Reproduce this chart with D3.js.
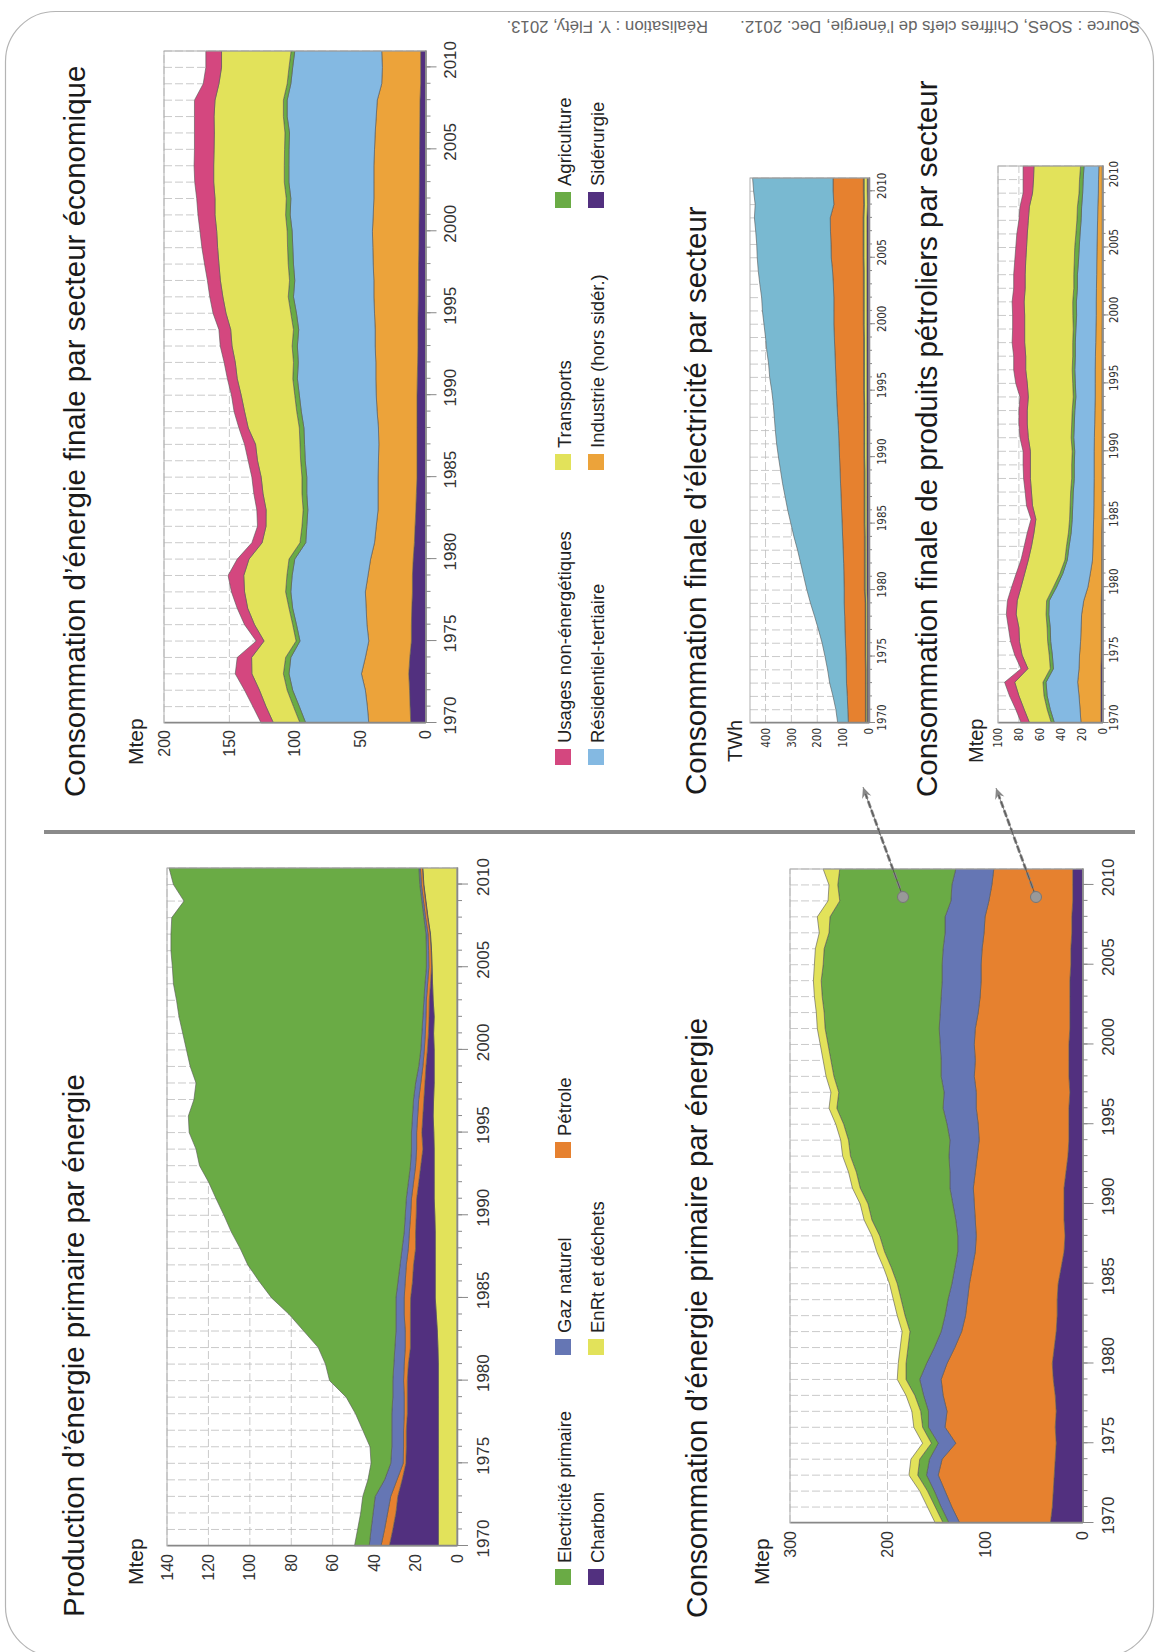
<!DOCTYPE html>
<meta charset="utf-8">
<style>
body { margin: 0; background: #fff; }
svg text { font-family: "Liberation Sans", Arial, sans-serif; }
</style>
<body>
<script src="https://d3js.org/d3.v7.min.js"></script>
<script>
// years and ticks
var years = d3.range(1970, 2012);
var yearTicks = [1970, 1975, 1980, 1985, 1990, 1995, 2000, 2005, 2010];
var prodTicks = [0, 20, 40, 60, 80, 100, 120, 140];
var consoTicks = [0, 100, 200, 300];
var finTicks = [0, 50, 100, 150, 200];
var elecTicks = [0, 100, 200, 300, 400];
var petTicks = [0, 20, 40, 60, 80, 100];

// Production d'energie primaire (Mtep)
var prodEnr = [9,9,9,9,9,9,9,9,9,9, 9,9,9.2,9.5,10,10.5,10.5,10.5,10.5,10.5, 10.7,11,11,11,11,11.2,11.5,11.3,11,11, 11,11.3,11,11.5,11.8,12,12.3,12.8,14,15, 16,16.5];
var prodCharbon = [23.7,22,20.5,19.6,17.5,15.7,15.5,15.5,15,15, 15,14.5,13.3,13,12.5,11.9,11,10.5,9.5,9.5, 9,8.5,7.5,6.5,5.5,5.8,5,4.7,4.5,4, 3.3,2.5,2.5,1.9,1,0.3,0.2,0.2,0.2,0.2, 0.2,0.2];
var prodPetrole = [4,4,4,3.4,2.5,1.3,1.3,1.3,1.5,1.5, 1.8,2,2.5,2.5,3,3.1,3.5,3.5,3.5,3, 2.7,2.5,2.5,2.5,3,2.5,2.5,2.5,2,1.5, 1.5,1.5,1.5,1.4,1.4,1.3,1.2,1,1,1, 1,1];
var prodGaz = [5.7,6.5,7,7.5,6,6,5.7,5.7,6,5.5, 5.2,5,5,4.5,4,4,3.5,3,3,2.5, 2.6,2.5,2.5,2.5,2.5,2.5,2.5,2.5,2.5,2, 1.7,1.7,1.5,1.2,1.3,1.2,1.1,1,0.8,0.8, 0.8,0.7];
var prodElec = [7.1,6.5,6,6,8,9.5,10.5,14,17.5,22.5, 30.5,33,37,44.5,51.5,60,67,73.5,78.2,83.5, 87.5,91.8,96.4,101.8,104,107.3,108.2,106,106,110.3, 113.1,115.4,117.7,119.4,121.4,122.6,123.3,123.1,121.7,114.8, 118.9,120.6];

// Consommation d'energie primaire (Mtep)
var consoCharbon = [33,31,30,29,28,27,28,27,28,30, 31,29,27,26,26,25,22,19,18,19, 19,19,17,15,14,14,14,13,14,14, 14,13,13,13,13,12,12,11,11,10, 10,10];
var consoPetrole = [93,103,111,119,116,103,113,112,115,115, 108,102,97,94,92,91,91,91,91,91, 92,93,93,93,92,93,95,96,97,96, 97,97,94,92,91,92,91,90,89,86, 83,81];
var consoGaz = [11,11,11,12,13,18,17,19,20,22, 21,21,21,21,20,18,18,18,19,20, 22,24,26,29,30,32,34,33,34,35, 35,37,39,40,40,40,40,40,41,39, 41,39];
var consoElec = [6,6,7,9,10,7,6,8,9,14, 21,27,32,41,48,56,65,75,80,86, 87,92,96,101,104,106,109,108,110,113, 115,117,119,122,124,122,122,119,118,114, 117,119];
var consoEnr = [8,8,8,9,9,9,9,9,9,9, 8,8,8,8,8,8,8,8,8,8, 8,8,8,8,8,8,8,8,8,8, 8,8,8,8,8,9,9,10,13,12, 9,17];

// Consommation finale par secteur (Mtep)
var finSid = [11.3,11.8,12.2,12.8,12,10.8,10.8,10.5,10,10, 9.4,8.5,8,7.4,7,6.5,6.5,6.5,6.5,6.5, 6.5,6.3,6,5.8,5.8,5.7,5.5,5.4,5.3,5.1, 5,4.9,4.8,4.7,4.6,4.5,4.4,4.3,4.2,3.7, 3.7,3.7];
var finInd = [32.1,32.7,33.8,36.2,34,32.6,34,34.9,36,34, 32.6,30.5,29.7,28.9,29.3,29.8,29.5,29.2,29.5,30.5, 31.2,31.7,32,32.7,32.7,33.3,34,34.1,34.7,35.2, 35.6,35.1,34.7,34.8,34.9,34.5,34.1,33.4,32.7,29.8, 29.3,29.8];
var finRes = [48.2,52,55.6,55.4,57,52.6,53.9,56.2,57,58, 58,52.6,53.1,53.7,54.5,54.5,56,56.8,57,58, 58.8,60,59.3,59.5,58.5,59.7,61.5,60.5,61,61.2, 61.4,63.5,63.5,65,65,65.4,65.5,68.1,68.9,69.5, 68.6,66.5];
var finAgri = [4.4,4.5,4.2,4.3,4,3,2.9,2.8,4,4, 4.4,4.4,3.7,3.6,3.7,3.7,3.5,3.5,3.5,3.5, 3.5,3.5,3.7,4,4,4.3,4,4,4,4, 3.8,3.5,3.5,3.5,3.5,3.4,3.5,2.9,2.9,2.8, 2.8,2.8];
var finTrans = [20.3,21,21.2,24.1,26,24.5,29.2,31.6,31.4,33, 30.6,29,27.5,28.3,29.8,31.2,33,34,39.1,39.9, 41,42.5,44.5,46,48,49.6,50,52.9,53,53.5, 53.9,54,54.5,54,54,53.9,54,53,52.3,52.2, 51.6,53.2];
var finNonEn = [9.4,10,11.4,12.7,11,6,7.6,8,10,12, 9,7.8,6.5,7.1,7,7.1,7.1,8.4,7.1,8, 7.4,7.5,8.5,9,9,9.9,10,9.9,11,12, 12.8,13,14,14.5,15,15,15.2,15,15.7,12, 12,12];

// Consommation finale d'electricite (TWh)
var elecSid = [7,7,7,7,7,7,7,7,7,7, 8,8,8,8,8,8,8,8,8,8, 8,8,8,8,8,8,8,8,8,8, 8,8,8,8,8,8,8,8,8,6, 7,7];
var elecTrans = [5,5,5,5,5,6,6,6,6,6, 7,7,7,7,7,8,8,8,8,8, 9,9,9,9,9,10,10,10,10,10, 11,11,11,11,11,12,12,12,12,12, 12,12];
var elecAgri = [2,2,2,2,2,2,2,2,2,2, 3,3,3,3,3,3,3,3,3,3, 3,3,3,3,3,3,3,3,3,3, 3,3,3,3,3,3,3,3,3,3, 3,3];
var elecInd = [66,68,70,73,74,74,76,78,79,81, 78,79,80,82,84,85,87,89,91,93, 94,96,98,101,104,105,107,109,111,113, 114,114,114,116,119,123,124,126,127,115, 117,117];
var elecRes = [41,46,55,65,72,81,90,102,116,130, 144,155,166,176,188,198,208,216,224,230, 236,241,244,245,246,250,256,258,263,266, 270,276,279,284,287,286,287,289,293,304, 307,311];

// Consommation finale de produits petroliers (Mtep)
var petSid = [1.5,1.5,1.5,1.5,1.5,1.2,1.2,1.2,1.2,1.2, 0.8,0.8,0.8,0.8,0.8,0.5,0.5,0.5,0.5,0.5, 0.5,0.5,0.5,0.5,0.5,0.5,0.5,0.5,0.5,0.5, 0.3,0.3,0.3,0.3,0.3,0.3,0.3,0.3,0.3,0.3, 0.3,0.3];
var petInd = [19.1,20,21,22.3,21,20.8,19.8,19.3,18.8,16.8, 13.2,10.9,8.8,8.4,8.1,8,7.8,7.7,7.5,7.5, 7.5,7.3,7,6.8,6.5,6.5,6.5,6.3,6,5.8, 5.7,5.7,5.5,5.3,5.2,5,4.7,4.4,4.2,3.7, 3.5,3.2];
var petRes = [25.4,28.5,30.5,30.2,24.5,26,28.6,29.5,31.4,33, 30,26.3,24.1,22.8,21.1,20.5,20.2,19.8,19,19, 18.6,19.7,19.5,19.2,18.5,19,19.5,19.2,19.5,19.2, 18.8,19,18.2,18.4,17.5,17,16.5,15.8,15.5,15, 14.7,14.2];
var petAgri = [3,3,3,3,3,3,2.9,3,2.6,2.5, 3,2.8,2.3,2.5,2.6,2.5,2.5,2.5,2.5,2.5, 2.4,2.5,2.5,2.5,2.5,2.5,2.5,2.5,2.5,2.5, 3.6,3.5,3.5,3.5,4,4.3,4,4,4,3.5, 3.5,3.3];
var petTrans = [20.8,22,24,27,21.4,26,27,27,28.6,28.1, 31,33.7,35,33.5,33,32.3,36,37.5,39.5,39.5, 40,41,42.5,43,43,43.5,44.5,45,46,46.5, 46.1,46.5,46.5,46.5,46.5,46.1,46.5,46.5,46,44.5, 44,44.6];
var petNonEn = [8,8,9,9.7,6.6,7,8.5,10,9.4,9.4, 9,8.1,7,7,6.4,4.6,5.7,6,6.5,7, 7,8,8,8,8,11,11.5,11.5,12,11.5, 11.5,11.5,11,11,10.5,10.3,10,9,9,9, 10,10.4];

// colours
var cGreen = "#6aab45", cPurple = "#52307f", cBlue = "#6576b4", cYellow = "#e2e25a",
    cOrange = "#e6812f", cPink = "#d4477f", cSky = "#84b9e2", cInd = "#eca33a", cElecBlue = "#79b9d1";

var svg = d3.select("body").append("svg")
    .attr("width", 1155)
    .attr("height", 1652);

// frame of the page
svg.append("rect")
    .attr("x", 5.5).attr("y", 11.5)
    .attr("width", 1148).attr("height", 1645)
    .attr("rx", 50).attr("ry", 50)
    .attr("fill", "none")
    .attr("stroke", "#b4b4b4")
    .attr("stroke-width", 1.2);

// source line (upside down at the top)
svg.append("text")
    .attr("transform", "translate(1140,21) rotate(180)")
    .style("font-size", "16.8px").style("fill", "#666")
    .text("Source : SOeS, Chiffres clefs de l’énergie, Dec. 2012.");
svg.append("text")
    .attr("transform", "translate(708,21) rotate(180)")
    .style("font-size", "16.8px").style("fill", "#666")
    .text("Réalisation : Y. Fléty, 2013.");

// the page is drawn in landscape then turned
var page = svg.append("g")
    .attr("transform", "translate(0,1652) rotate(-90)");

function drawChart(c) {
  var g = page.append("g");
  var x = d3.scaleLinear().domain([1970, 2011]).range([c.u0, c.u1]);
  var y = d3.scaleLinear().domain([0, c.max]).range([c.vZero, c.vTop]);

  var rows = years.map(function(yr, i) {
    var r = {year: yr};
    c.series.forEach(function(s) { r[s.key] = s.values[i]; });
    return r;
  });
  var stacked = d3.stack().keys(c.series.map(function(s) { return s.key; }))(rows);

  // grid
  g.append("g").selectAll("line")
      .data(years.slice(1))
      .enter().append("line")
      .attr("x1", function(d) { return x(d); })
      .attr("x2", function(d) { return x(d); })
      .attr("y1", c.vTop).attr("y2", c.vZero)
      .attr("stroke", "#bdbdbd")
      .attr("stroke-width", 0.8)
      .attr("stroke-dasharray", "8,3");
  g.append("g").selectAll("line")
      .data(c.ticks.slice(1))
      .enter().append("line")
      .attr("x1", c.u0).attr("x2", c.u1)
      .attr("y1", function(d) { return y(d); })
      .attr("y2", function(d) { return y(d); })
      .attr("stroke", "#bdbdbd")
      .attr("stroke-width", 0.8)
      .attr("stroke-dasharray", "8,3");

  var area = d3.area()
      .x(function(d) { return x(d.data.year); })
      .y0(function(d) { return y(d[0]); })
      .y1(function(d) { return y(d[1]); });

  g.selectAll("path.layer")
      .data(stacked)
      .enter().append("path")
      .attr("class", "layer")
      .attr("d", area)
      .attr("fill", function(d, i) { return c.series[i].color; })
      .attr("stroke", "#555")
      .attr("stroke-width", 0.6);

  g.append("rect")
      .attr("x", c.u0).attr("y", c.vTop)
      .attr("width", c.u1 - c.u0).attr("height", c.vZero - c.vTop)
      .attr("fill", "none")
      .attr("stroke", "#b0b0b0");

  // year axis
  var minor = g.append("g")
      .attr("transform", "translate(0," + c.vZero + ")")
      .call(d3.axisBottom(x).tickValues(years.slice(0, 41)).tickSize(c.minorTick).tickSizeOuter(0).tickFormat(""));
  var major = g.append("g")
      .attr("transform", "translate(0," + c.vZero + ")")
      .call(d3.axisBottom(x).tickValues(yearTicks).tickSize(c.majorTick).tickSizeOuter(0).tickFormat(d3.format("d")));
  [minor, major].forEach(function(a) {
    a.selectAll("line").attr("stroke", "#888");
    a.select(".domain").attr("stroke", "#888").attr("stroke-width", 1.3);
  });
  major.selectAll("text")
      .attr("y", c.yearOffset)
      .attr("dy", "0.35em")
      .attr("dx", c.yearDx)
      .attr("fill", "#333")
      .style("font-size", c.yearFont + "px")
      .style("font-family", c.small ? "'Liberation Sans Narrow', 'DejaVu Sans Condensed', sans-serif" : null);

  // value axis
  var va = g.append("g")
      .attr("transform", "translate(" + c.u0 + ",0)")
      .call(d3.axisLeft(y).tickValues(c.ticks).tickSize(0).tickPadding(c.valPad));
  va.select(".domain").attr("stroke", "#888").attr("stroke-width", 1.3);
  va.selectAll("text")
      .attr("fill", "#333")
      .style("font-size", c.valFont + "px")
      .style("font-family", c.small ? "'Liberation Sans Narrow', 'DejaVu Sans Condensed', sans-serif" : null);

  // title and unit
  g.append("text")
      .attr("x", c.titleU).attr("y", c.titleV)
      .style("font-size", "29.5px").style("fill", "#1a1a1a")
      .text(c.title);
  g.append("text")
      .attr("x", c.unitU).attr("y", c.unitV)
      .style("font-size", c.unitFont + "px").style("fill", "#222")
      .text(c.unit);
}

function drawLegend(items) {
  var lg = page.append("g");
  items.forEach(function(it) {
    lg.append("rect")
        .attr("x", it.u).attr("y", it.v)
        .attr("width", 16).attr("height", 16)
        .attr("fill", it.color);
    lg.append("text")
        .attr("x", it.u + 22).attr("y", it.v + 15.5)
        .style("font-size", "18.5px").style("fill", "#222")
        .text(it.label);
  });
}

// production
drawChart({
  u0: 106, u1: 784, vZero: 457, vTop: 167, max: 140, ticks: prodTicks,
  minorTick: 5, majorTick: 11, yearOffset: 26, yearDx: 7, yearFont: 17, valFont: 16, valPad: 8,
  title: "Production d’énergie primaire par énergie", titleU: 35, titleV: 84,
  unit: "Mtep", unitU: 67, unitV: 143, unitFont: 21,
  series: [
    {key: "enr", values: prodEnr, color: cYellow},
    {key: "charbon", values: prodCharbon, color: cPurple},
    {key: "petrole", values: prodPetrole, color: cOrange},
    {key: "gaz", values: prodGaz, color: cBlue},
    {key: "elec", values: prodElec, color: cGreen}
  ]
});

// consommation primaire
drawChart({
  u0: 129, u1: 783, vZero: 1082.5, vTop: 790, max: 300, ticks: consoTicks,
  minorTick: 5, majorTick: 11, yearOffset: 26, yearDx: 7, yearFont: 17, valFont: 16, valPad: 8,
  title: "Consommation d’énergie primaire par énergie", titleU: 34, titleV: 707,
  unit: "Mtep", unitU: 67, unitV: 769, unitFont: 21,
  series: [
    {key: "charbon", values: consoCharbon, color: cPurple},
    {key: "petrole", values: consoPetrole, color: cOrange},
    {key: "gaz", values: consoGaz, color: cBlue},
    {key: "elec", values: consoElec, color: cGreen},
    {key: "enr", values: consoEnr, color: cYellow}
  ]
});

// consommation finale par secteur
drawChart({
  u0: 929, u1: 1601, vZero: 425.5, vTop: 164, max: 200, ticks: finTicks,
  minorTick: 5, majorTick: 11, yearOffset: 25, yearDx: 7, yearFont: 17, valFont: 16, valPad: 7,
  title: "Consommation d’énergie finale par secteur économique", titleU: 855, titleV: 85,
  unit: "Mtep", unitU: 887, unitV: 143, unitFont: 21,
  series: [
    {key: "sid", values: finSid, color: cPurple},
    {key: "ind", values: finInd, color: cInd},
    {key: "res", values: finRes, color: cSky},
    {key: "agri", values: finAgri, color: cGreen},
    {key: "trans", values: finTrans, color: cYellow},
    {key: "nonen", values: finNonEn, color: cPink}
  ]
});

// electricite
drawChart({
  u0: 929, u1: 1474, vZero: 869, vTop: 750, max: 460, ticks: elecTicks, small: true,
  minorTick: 3, majorTick: 6, yearOffset: 13, yearDx: 5, yearFont: 11.5, valFont: 11.5, valPad: 5,
  title: "Consommation finale d’électricité par secteur", titleU: 857, titleV: 706,
  unit: "TWh", unitU: 890, unitV: 742, unitFont: 20,
  series: [
    {key: "sid", values: elecSid, color: cPurple},
    {key: "trans", values: elecTrans, color: cYellow},
    {key: "agri", values: elecAgri, color: cGreen},
    {key: "ind", values: elecInd, color: cOrange},
    {key: "res", values: elecRes, color: cElecBlue}
  ]
});

// produits petroliers
drawChart({
  u0: 929, u1: 1486, vZero: 1102.5, vTop: 998, max: 100, ticks: petTicks, small: true,
  minorTick: 3, majorTick: 6, yearOffset: 11, yearDx: 5, yearFont: 11.5, valFont: 11.5, valPad: 5,
  title: "Consommation finale de produits pétroliers par secteur", titleU: 855, titleV: 937,
  unit: "Mtep", unitU: 889, unitV: 983, unitFont: 20,
  series: [
    {key: "sid", values: petSid, color: cPurple},
    {key: "ind", values: petInd, color: cInd},
    {key: "res", values: petRes, color: cSky},
    {key: "agri", values: petAgri, color: cGreen},
    {key: "trans", values: petTrans, color: cYellow},
    {key: "nonen", values: petNonEn, color: cPink}
  ]
});

// legends
drawLegend([
  {u: 67, v: 555, color: cGreen, label: "Electricité primaire"},
  {u: 67, v: 588, color: cPurple, label: "Charbon"},
  {u: 297, v: 555, color: cBlue, label: "Gaz naturel"},
  {u: 297, v: 588, color: cYellow, label: "EnRt et déchets"},
  {u: 494, v: 555, color: cOrange, label: "Pétrole"}
]);
drawLegend([
  {u: 887, v: 555, color: cPink, label: "Usages non-énergétiques"},
  {u: 887, v: 588, color: cSky, label: "Résidentiel-tertiaire"},
  {u: 1182, v: 555, color: cYellow, label: "Transports"},
  {u: 1182, v: 588, color: cInd, label: "Industrie (hors sidér.)"},
  {u: 1444, v: 555, color: cGreen, label: "Agriculture"},
  {u: 1444, v: 588, color: cPurple, label: "Sidérurgie"}
]);

// divider between the two halves
page.append("line")
    .attr("x1", 820).attr("x2", 820)
    .attr("y1", 44).attr("y2", 1135)
    .attr("stroke", "#8a8a8a")
    .attr("stroke-width", 4);

// arrows from the primary chart to the two detail charts (screen coordinates)
var arrows = [
  {x1: 903, y1: 897, x2: 863, y2: 787},
  {x1: 1036, y1: 897, x2: 996, y2: 788}
];
arrows.forEach(function(a) {
  var ang = Math.atan2(a.y2 - a.y1, a.x2 - a.x1);
  svg.append("line")
      .attr("x1", a.x1).attr("y1", a.y1).attr("x2", a.x2 - 6 * Math.cos(ang)).attr("y2", a.y2 - 6 * Math.sin(ang))
      .attr("stroke", "#888").attr("stroke-width", 2.8).attr("stroke-dasharray", "7,2.5");
  svg.append("line")
      .attr("x1", a.x1).attr("y1", a.y1).attr("x2", a.x2).attr("y2", a.y2)
      .attr("stroke", "#333").attr("stroke-width", 0.6);
  var p = d3.path();
  var L = 12, W = 0.42;
  p.moveTo(a.x2, a.y2);
  p.lineTo(a.x2 - L * Math.cos(ang - W), a.y2 - L * Math.sin(ang - W));
  p.lineTo(a.x2 - 0.6 * L * Math.cos(ang), a.y2 - 0.6 * L * Math.sin(ang));
  p.lineTo(a.x2 - L * Math.cos(ang + W), a.y2 - L * Math.sin(ang + W));
  p.closePath();
  svg.append("path").attr("d", p.toString()).attr("fill", "#888");
  svg.append("circle")
      .attr("cx", a.x1).attr("cy", a.y1).attr("r", 5.5)
      .attr("fill", "#999").attr("stroke", "#777");
});
</script>
</body>
